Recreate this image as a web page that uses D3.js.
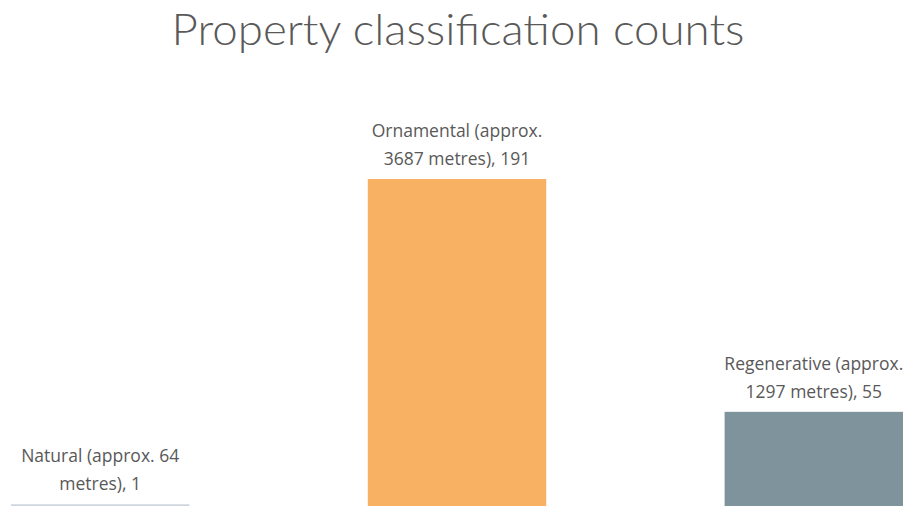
<!DOCTYPE html>
<html>
<head>
<meta charset="utf-8">
<script src="https://cdn.jsdelivr.net/npm/d3@7"></script>
<style>
  html, body { margin: 0; padding: 0; background: #fff; }
  svg { display: block; }
</style>
</head>
<body>
<div id="chart"></div>
<script>
// Data
const categories = ['Natural', 'Ornamental', 'Regenerative'];
const lengths = [64, 3687, 1297];   // approx. metres
const counts = [1, 191, 55];
const barColors = ['#cdd6de', '#f8b062', '#7f939c'];

const W = 915, H = 506;
const plotLeft = 11, plotRight = 903, plotBottom = 506, plotTop = 179;

const svg = d3.select('#chart').append('svg')
    .attr('width', W)
    .attr('height', H);

// Title
svg.append('text')
    .attr('x', 458)
    .attr('y', 45)
    .attr('text-anchor', 'middle')
    .attr('font-family', '"Lato", "Open Sans", sans-serif')
    .attr('font-weight', 300)
    .attr('font-size', '44px')
    .attr('fill', '#595959')
    .attr('textLength', 573)
    .attr('lengthAdjust', 'spacingAndGlyphs')
    .text('Property classification counts');

const x = d3.scaleBand()
    .domain(categories)
    .range([plotLeft, plotRight])
    .paddingInner(0.5)
    .paddingOuter(0);

const y = d3.scaleLinear()
    .domain([0, d3.max(counts)])
    .range([plotBottom, plotTop]);

const data = categories.map((c, i) => ({
    cat: c, len: lengths[i], count: counts[i], color: barColors[i]
}));

svg.selectAll('rect.bar')
    .data(data)
    .join('rect')
    .attr('class', 'bar')
    .attr('x', d => x(d.cat))
    .attr('width', x.bandwidth())
    .attr('y', d => y(d.count))
    .attr('height', d => Math.max(1, plotBottom - y(d.count)))
    .attr('fill', d => d.color);

// Data labels, two lines above each bar
const labels = svg.selectAll('text.lbl')
    .data(data)
    .join('text')
    .attr('class', 'lbl')
    .attr('text-anchor', 'middle')
    .attr('font-family', '"Open Sans", "Noto Sans", sans-serif')
    .attr('font-size', '17.5px')
    .attr('fill', '#595959');

labels.each(function(d) {
    const cx = x(d.cat) + x.bandwidth() / 2;
    const base = y(d.count) - 14;
    let line1, line2;
    if (d.cat === 'Natural') {
        line1 = `${d.cat} (approx. ${d.len}`;
        line2 = `metres), ${d.count}`;
    } else {
        line1 = `${d.cat} (approx.`;
        line2 = `${d.len} metres), ${d.count}`;
    }
    const t = d3.select(this);
    t.append('tspan').attr('x', cx).attr('y', base - 28).text(line1);
    t.append('tspan').attr('x', cx).attr('y', base).text(line2);
});
</script>
</body>
</html>
